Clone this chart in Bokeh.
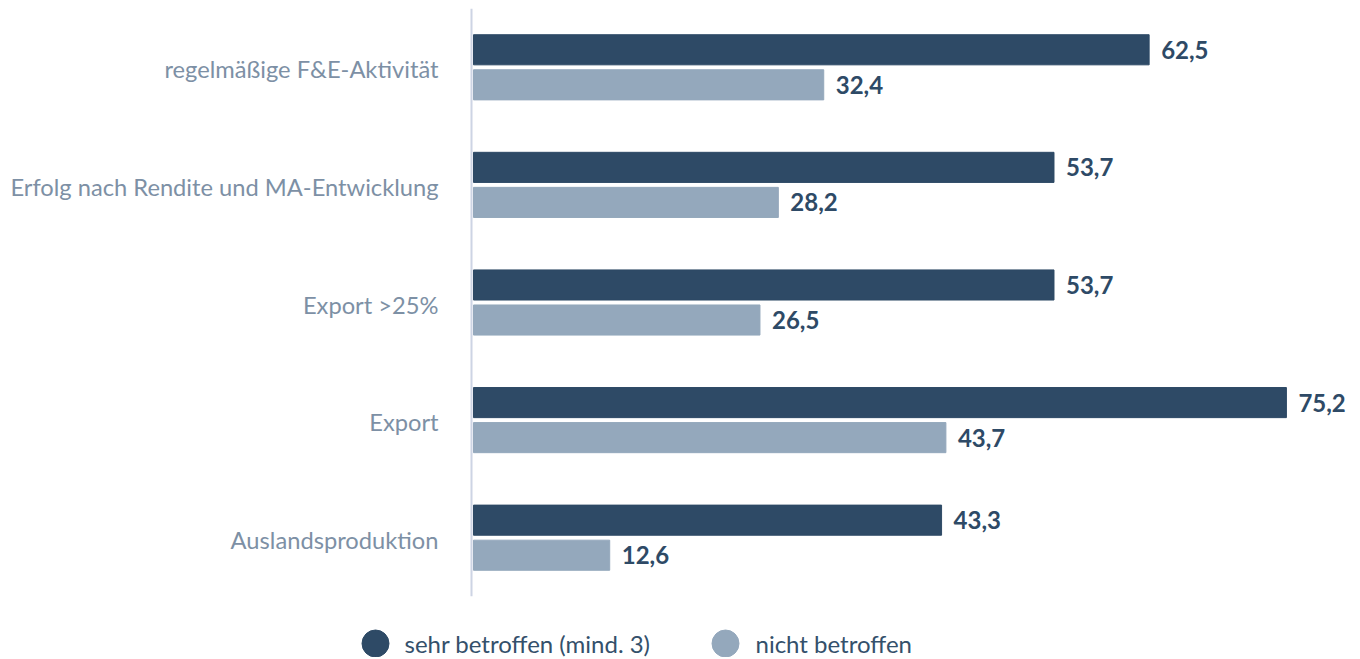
from bokeh.plotting import figure
from bokeh.models import ColumnDataSource, Range1d, Span
from bokeh.layouts import column
from bokeh.core.properties import value
from bokeh.embed import file_html
from bokeh.resources import INLINE

categories = ["regelmäßige F&E-Aktivität", "Erfolg nach Rendite und MA-Entwicklung",
              "Export >25%", "Export", "Auslandsproduktion"]
sehr_betroffen = [62.5, 53.7, 53.7, 75.2, 43.3]
nicht_betroffen = [32.4, 28.2, 26.5, 43.7, 12.6]
series_names = ["sehr betroffen (mind. 3)", "nicht betroffen"]

DARK = "#2e4a66"
LIGHT = "#94a8bc"
LABEL_GREY = "#7d90a5"
TEXT_DARK = "#34506b"
FONT = "Lato"

W = 1352
PX_PER_UNIT = 10.81
ZERO_PX = 473.0
x0 = -ZERO_PX / PX_PER_UNIT
x1 = x0 + W / PX_PER_UNIT

centers = [i + 0.5 for i in range(len(categories))]
off = 0.149
bar_h = 0.256

def fmt(v):
    return f"{v:.1f}".replace(".", ",")

src_dark = ColumnDataSource(dict(y=[c - off for c in centers], v=sehr_betroffen,
                                 lab=[fmt(v) for v in sehr_betroffen]))
src_light = ColumnDataSource(dict(y=[c + off for c in centers], v=nicht_betroffen,
                                  lab=[fmt(v) for v in nicht_betroffen]))
src_cat = ColumnDataSource(dict(y=centers, x=[0] * len(categories), name=categories))

p = figure(width=W, height=597, output_backend="svg", toolbar_location=None,
           x_range=Range1d(x0, x1), y_range=Range1d(len(categories), 0),
           min_border=0, min_border_top=8, min_border_bottom=1)
p.outline_line_color = None
p.grid.visible = False
p.axis.visible = False

p.add_layout(Span(location=-2 / PX_PER_UNIT, dimension="height",
                  line_color="#cdd4e4", line_width=2))

p.hbar(y="y", left=0, right="v", height=bar_h, source=src_dark, color=DARK)
p.hbar(y="y", left=0, right="v", height=bar_h, source=src_light, color=LIGHT)

for src in (src_dark, src_light):
    p.text(x="v", y="y", text="lab", source=src, x_offset=12,
           text_align="left", text_baseline="middle",
           text_font=value(FONT), text_font_size="24px",
           text_font_style="bold", text_color=DARK)

p.text(x="x", y="y", text="name", source=src_cat, x_offset=-35, y_offset=2,
       text_align="right", text_baseline="middle",
       text_font=value(FONT), text_font_size="23.7px", text_color=LABEL_GREY)

# legend strip
LH = 60
lg = figure(width=W, height=LH, output_backend="svg", toolbar_location=None,
            x_range=Range1d(0, W), y_range=Range1d(0, LH), min_border=0)
lg.outline_line_color = None
lg.axis.visible = False
lg.grid.visible = False
leg_src = ColumnDataSource(dict(cx=[375, 725], tx=[404, 755], cy=[14, 14],
                                color=[DARK, LIGHT], name=series_names))
lg.scatter(x="cx", y="cy", size=27, color="color", source=leg_src)
lg.text(x="tx", y="cy", text="name", source=leg_src, text_baseline="middle",
        text_align="left", text_font=value(FONT), text_font_size="24px",
        text_color=TEXT_DARK)

layout = column(p, lg, spacing=0)
open("out.html", "w").write(file_html(layout, INLINE))
